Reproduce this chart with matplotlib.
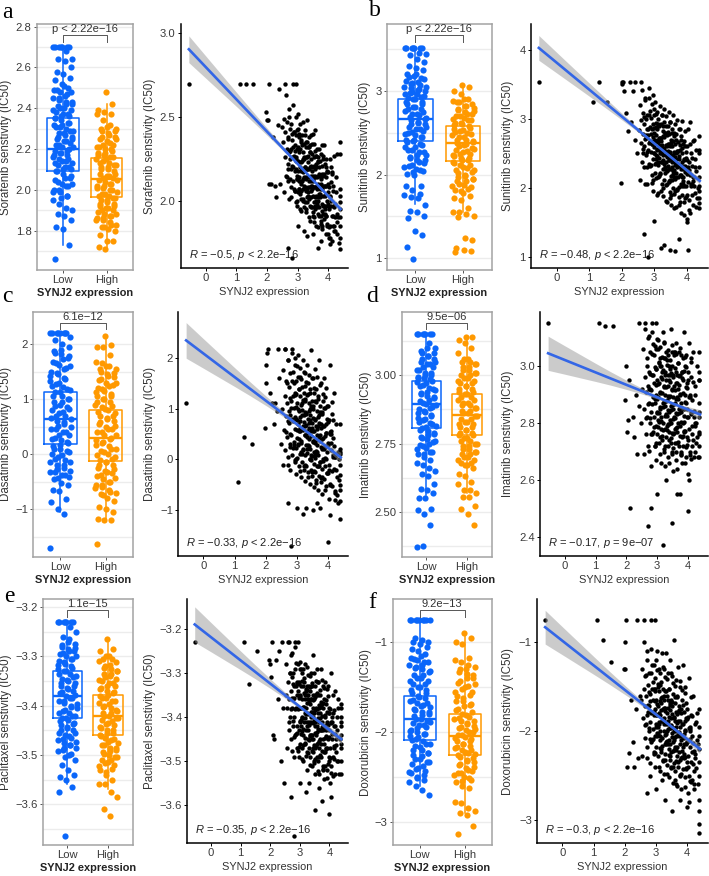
import matplotlib
matplotlib.use("Agg")
import numpy as np
import matplotlib.pyplot as plt

W, H = 709, 876
plt.rcParams['font.family'] = ['Liberation Sans', 'DejaVu Sans']
plt.rcParams['mathtext.fontset'] = 'custom'
plt.rcParams['mathtext.rm'] = 'Liberation Sans'
plt.rcParams['mathtext.it'] = 'Liberation Sans:italic'

BLUE = '#0A66FA'
ORANGE = '#FF9900'
LINE = '#3366E6'

# SYNJ2 expression, shared by every drug (one row = ten samples)
synj2 = [
    -0.55, 1.12, 1.30, 1.55, 2.05, 2.4, 2.6, 2.85, 2.95, 1.97,
    2.0, 2.02, 2.08, 2.12, 2.2, 2.25, 2.3, 2.35, 2.42, 2.48,
    4.38, 4.38, 4.38, 4.38, 4.38, 4.38, 4.38, 4.38, 4.38, 4.38,
    4.3, 4.3, 4.25, 4.22, 4.2, 4.35, 4.33, 4.28, 4.15, 4.1,
    2.7, 2.8, 3.0, 3.2, 3.3, 3.5, 3.65, 3.75, 4.0, 4.05,
    2.62, 2.85, 3.02, 3.18, 3.31, 3.44, 3.57, 3.71, 3.86, 4.05,
    2.71, 2.93, 3.08, 3.24, 3.37, 3.5, 3.63, 3.78, 3.94, 4.18,
    2.55, 2.78, 2.98, 3.13, 3.27, 3.41, 3.54, 3.67, 3.82, 4.0,
    2.66, 2.89, 3.05, 3.21, 3.34, 3.47, 3.6, 3.74, 3.9, 4.12,
    2.75, 2.95, 3.1, 3.26, 3.39, 3.52, 3.65, 3.8, 3.97, 4.25,
    2.6, 2.82, 3.0, 3.16, 3.29, 3.43, 3.56, 3.69, 3.84, 4.08,
    2.69, 2.91, 3.06, 3.22, 3.35, 3.48, 3.61, 3.76, 3.92, 4.15,
    2.52, 2.76, 2.96, 3.11, 3.25, 3.38, 3.51, 3.64, 3.79, 3.98,
    2.64, 2.87, 3.03, 3.19, 3.32, 3.45, 3.58, 3.72, 3.88, 4.1,
    2.73, 2.94, 3.09, 3.25, 3.38, 3.51, 3.64, 3.79, 3.96, 4.22,
    2.58, 2.8, 2.99, 3.14, 3.28, 3.42, 3.55, 3.68, 3.83, 4.03,
    2.67, 2.9, 3.04, 3.2, 3.33, 3.46, 3.59, 3.73, 3.89, 4.13,
    2.77, 2.97, 3.12, 3.27, 3.4, 3.53, 3.66, 3.81, 3.99, 4.27,
    2.63, 2.84, 3.01, 3.17, 3.3, 3.44, 3.57, 3.7, 3.85, 4.06,
    2.7, 2.92, 3.07, 3.23, 3.36, 3.49, 3.62, 3.77, 3.93, 4.2,
    2.56, 2.79, 2.97, 3.12, 3.26, 3.4, 3.53, 3.66, 3.81, 4.02,
    2.72, 2.88, 3.0, 3.11, 3.23, 3.36, 3.48, 3.61, 3.75, 3.91,
    2.83, 3.04, 3.15, 3.29, 3.41, 3.55, 3.68, 3.83, 3.95, 4.11,
    2.68, 2.92, 3.07, 3.2, 3.33, 3.46, 3.59, 3.72, 3.87, 4.02,
    2.78, 2.98, 3.13, 3.26, 3.39, 3.52, 3.66, 3.8, 3.93, 4.16,
    2.86, 3.02, 3.17, 3.3, 3.43, 3.57, 3.7, 3.85, 3.98, 4.07,
    2.74, 2.96, 3.1, 3.24, 3.37, 3.5, 3.63, 3.76, 3.9, 4.04,
    2.81, 3.0, 3.15, 3.28, 3.42, 3.54, 3.67, 3.82, 3.94, 4.19,
    2.7, 2.93, 3.08, 3.22, 3.35, 3.47, 3.6, 3.74, 3.88, 4.09,
    2.84, 3.05, 3.18, 3.31, 3.45, 3.58, 3.71, 3.86, 4.0, 4.23,
    2.76, 2.99, 3.12, 3.25, 3.38, 3.51, 3.64, 3.78, 3.92, 4.14,
    2.65, 2.9, 3.06, 3.19, 3.34, 3.48, 3.62, 3.75, 3.89, 4.01,
    2.88, 3.03, 3.16, 3.32, 3.44, 3.56, 3.69, 3.84, 3.97, 4.17,
    2.79, 2.97, 3.11, 3.27, 3.4, 3.53, 3.65, 3.79, 3.95, 4.07,
    2.72, 2.94, 3.09, 3.21, 3.36, 3.49, 3.61, 3.77, 3.91, 4.11,
]

sorafenib = [
    2.70, 2.70, 2.70, 2.70, 2.70, 2.67, 2.70, 2.70, 2.70, 2.53,
    2.48, 2.48, 2.10, 2.10, 2.38, 2.09, 2.02, 2.45, 2.10, 2.44,
    2.35, 2.28, 2.07, 2.03, 1.99, 1.95, 1.90, 1.85, 1.78, 1.71,
    2.28, 1.92, 2.05, 1.82, 1.97, 1.75, 1.90, 1.80, 1.85, 2.20,
    1.72, 1.66, 1.85, 1.82, 1.79, 1.80, 1.72, 1.76, 1.80, 1.74,
    2.63, 2.57, 2.52, 2.47, 2.48, 2.39, 2.42, 2.31, 2.33, 2.25,
    2.55, 2.50, 2.46, 2.42, 2.38, 2.40, 2.31, 2.33, 2.25, 2.27,
    2.49, 2.46, 2.42, 2.39, 2.35, 2.33, 2.34, 2.26, 2.27, 2.17,
    2.47, 2.41, 2.38, 2.34, 2.32, 2.28, 2.27, 2.24, 2.22, 2.16,
    2.43, 2.39, 2.35, 2.32, 2.29, 2.26, 2.23, 2.21, 2.17, 2.14,
    2.41, 2.36, 2.32, 2.29, 2.26, 2.25, 2.19, 2.20, 2.15, 2.11,
    2.37, 2.33, 2.29, 2.26, 2.23, 2.18, 2.20, 2.13, 2.14, 2.06,
    2.35, 2.30, 2.26, 2.23, 2.20, 2.19, 2.12, 2.14, 2.07, 2.05,
    2.31, 2.27, 2.23, 2.17, 2.19, 2.12, 2.15, 2.07, 2.09, 2.00,
    2.29, 2.24, 2.20, 2.19, 2.12, 2.13, 2.07, 2.09, 2.00, 1.98,
    2.26, 2.21, 2.15, 2.12, 2.14, 2.06, 2.08, 2.00, 1.97, 1.95,
    2.22, 2.18, 2.14, 2.09, 2.05, 2.07, 2.00, 2.02, 1.95, 1.91,
    2.19, 2.13, 2.10, 2.06, 2.08, 1.99, 2.02, 1.94, 1.97, 1.87,
    2.15, 2.12, 2.05, 2.07, 1.99, 2.02, 1.95, 1.96, 1.89, 1.85,
    2.12, 2.06, 2.04, 1.99, 2.01, 1.93, 1.96, 1.88, 1.91, 1.82,
    2.05, 2.02, 1.97, 1.94, 1.93, 1.88, 1.87, 1.84, 1.83, 1.78,
    2.50, 2.41, 2.43, 2.36, 2.39, 2.32, 2.34, 2.27, 2.28, 2.20,
    2.40, 2.40, 2.33, 2.35, 2.29, 2.30, 2.24, 2.25, 2.18, 2.17,
    2.38, 2.30, 2.31, 2.25, 2.27, 2.20, 2.22, 2.15, 2.16, 2.08,
    2.31, 2.31, 2.24, 2.26, 2.20, 2.21, 2.15, 2.16, 2.09, 2.09,
    2.32, 2.24, 2.25, 2.19, 2.21, 2.14, 2.16, 2.09, 2.10, 2.02,
    2.25, 2.25, 2.18, 2.20, 2.14, 2.15, 2.09, 2.10, 2.03, 2.03,
    2.26, 2.18, 2.19, 2.13, 2.15, 2.08, 2.10, 2.03, 2.04, 1.96,
    2.19, 2.19, 2.12, 2.14, 2.08, 2.09, 2.03, 2.04, 1.97, 1.97,
    2.20, 2.12, 2.13, 2.07, 2.09, 2.02, 2.04, 1.97, 1.98, 1.90,
    2.13, 2.13, 2.06, 2.08, 2.02, 2.03, 1.97, 1.98, 1.91, 1.91,
    2.14, 2.06, 2.07, 2.01, 2.03, 1.96, 1.98, 1.91, 1.92, 1.84,
    2.07, 2.07, 2.00, 2.02, 1.96, 1.97, 1.91, 1.92, 1.85, 1.85,
    2.08, 2.00, 2.01, 1.95, 1.97, 1.90, 1.92, 1.85, 1.86, 1.78,
    2.01, 1.99, 1.95, 1.96, 1.90, 1.91, 1.85, 1.86, 1.80, 1.76,
]
sunitinib = [
    3.53, 3.25, 3.53, 3.25, 3.53, 3.53, 3.53, 3.45, 3.35, 2.07,
    3.50, 3.53, 3.40, 3.08, 2.82, 3.53, 2.95, 3.40, 2.70, 2.50,
    2.75, 2.55, 2.30, 2.15, 2.02, 1.85, 1.78, 1.70, 2.50, 1.95,
    2.55, 1.72, 2.30, 2.70, 2.10, 2.00, 1.85, 2.25, 2.05, 2.95,
    1.33, 1.00, 1.52, 1.13, 1.17, 1.10, 1.08, 1.25, 1.50, 1.10,
    3.42, 3.30, 3.25, 3.18, 3.15, 3.10, 3.05, 2.98, 2.97, 2.85,
    3.28, 3.22, 3.10, 3.05, 3.04, 2.95, 2.92, 2.85, 2.82, 2.68,
    3.20, 3.05, 3.05, 2.93, 2.90, 2.89, 2.80, 2.78, 2.70, 2.60,
    3.08, 3.02, 2.94, 2.92, 2.80, 2.78, 2.75, 2.66, 2.63, 2.50,
    3.00, 2.92, 2.85, 2.83, 2.76, 2.70, 2.64, 2.62, 2.52, 2.42,
    2.98, 2.85, 2.80, 2.72, 2.74, 2.62, 2.61, 2.52, 2.50, 2.38,
    2.92, 2.78, 2.77, 2.68, 2.62, 2.60, 2.52, 2.46, 2.42, 2.32,
    2.84, 2.76, 2.68, 2.66, 2.58, 2.51, 2.47, 2.44, 2.33, 2.28,
    2.78, 2.68, 2.65, 2.55, 2.54, 2.46, 2.42, 2.34, 2.32, 2.20,
    2.71, 2.64, 2.55, 2.52, 2.45, 2.42, 2.33, 2.32, 2.23, 2.16,
    2.65, 2.55, 2.51, 2.43, 2.40, 2.32, 2.30, 2.22, 2.19, 2.08,
    2.56, 2.52, 2.42, 2.38, 2.30, 2.28, 2.20, 2.16, 2.10, 2.02,
    2.52, 2.42, 2.37, 2.28, 2.26, 2.17, 2.15, 2.06, 2.02, 1.92,
    2.38, 2.34, 2.22, 2.20, 2.12, 2.10, 2.00, 1.98, 1.90, 1.82,
    2.30, 2.18, 2.14, 2.05, 2.04, 1.94, 1.91, 1.86, 1.79, 1.75,
    2.12, 2.06, 1.95, 1.92, 1.88, 1.80, 1.75, 1.72, 1.64, 1.55,
    3.30, 3.12, 3.15, 3.00, 3.06, 2.90, 2.95, 2.80, 2.85, 2.68,
    3.05, 3.07, 2.90, 2.95, 2.81, 2.85, 2.70, 2.75, 2.60, 2.63,
    3.03, 2.85, 2.88, 2.73, 2.79, 2.63, 2.68, 2.53, 2.58, 2.41,
    2.85, 2.87, 2.70, 2.75, 2.61, 2.65, 2.50, 2.55, 2.40, 2.43,
    2.88, 2.70, 2.73, 2.58, 2.64, 2.48, 2.53, 2.38, 2.43, 2.26,
    2.72, 2.74, 2.57, 2.62, 2.48, 2.52, 2.37, 2.42, 2.27, 2.30,
    2.77, 2.59, 2.62, 2.47, 2.53, 2.37, 2.42, 2.27, 2.32, 2.15,
    2.61, 2.63, 2.46, 2.51, 2.37, 2.41, 2.26, 2.31, 2.16, 2.19,
    2.65, 2.47, 2.50, 2.35, 2.41, 2.25, 2.30, 2.15, 2.20, 2.03,
    2.48, 2.50, 2.33, 2.38, 2.24, 2.28, 2.13, 2.18, 2.03, 2.06,
    2.51, 2.33, 2.36, 2.21, 2.27, 2.11, 2.16, 2.01, 2.06, 1.89,
    2.32, 2.34, 2.17, 2.22, 2.08, 2.12, 1.97, 2.02, 1.87, 1.90,
    2.30, 2.12, 2.15, 2.00, 2.06, 1.90, 1.95, 1.80, 1.85, 1.68,
    2.05, 2.07, 1.90, 1.95, 1.81, 1.85, 1.70, 1.75, 1.60, 1.63,
]
dasatinib = [
    1.10, -0.45, 0.44, 0.30, 2.10, 2.18, 2.18, 2.18, 2.00, 0.62,
    1.50, 1.85, 2.18, 1.30, 1.10, 0.70, 1.10, 0.95, 1.60, 0.30,
    0.70, 0.20, 0.10, -0.10, -0.30, -0.50, -0.82, -1.18, 0.15, -0.60,
    0.15, -0.85, -0.20, -0.65, -0.80, 0.00, -0.40, -0.70, 0.05, 0.50,
    -0.85, -1.70, -0.95, -1.08, -0.95, -1.00, -0.85, -0.95, -1.62, -1.10,
    2.18, 2.10, 2.05, 1.95, 1.85, 2.15, 1.78, 1.95, 1.60, 1.85,
    1.95, 1.85, 1.80, 1.70, 1.65, 1.60, 1.62, 1.50, 1.40, 1.30,
    1.75, 1.70, 1.55, 1.58, 1.45, 1.38, 1.30, 1.25, 1.15, 1.05,
    1.55, 1.50, 1.38, 1.30, 1.28, 1.15, 1.12, 1.05, 1.02, 0.90,
    1.42, 1.30, 1.25, 1.15, 1.10, 1.00, 0.95, 0.90, 0.80, 0.70,
    1.25, 1.15, 1.10, 0.98, 0.92, 0.88, 0.80, 0.72, 0.65, 0.55,
    1.10, 1.02, 0.95, 0.88, 0.80, 0.72, 0.66, 0.62, 0.52, 0.42,
    1.00, 0.88, 0.80, 0.75, 0.65, 0.62, 0.55, 0.48, 0.40, 0.32,
    0.85, 0.75, 0.70, 0.58, 0.55, 0.46, 0.40, 0.36, 0.26, 0.18,
    0.72, 0.60, 0.55, 0.48, 0.40, 0.35, 0.28, 0.20, 0.14, 0.04,
    0.58, 0.48, 0.42, 0.32, 0.28, 0.20, 0.14, 0.08, 0.00, -0.10,
    0.45, 0.35, 0.28, 0.20, 0.12, 0.08, 0.02, -0.05, -0.12, -0.22,
    0.30, 0.22, 0.15, 0.08, 0.00, -0.08, -0.12, -0.18, -0.26, -0.35,
    0.18, 0.08, 0.02, -0.05, -0.12, -0.20, -0.25, -0.32, -0.38, -0.48,
    0.05, -0.05, -0.12, -0.20, -0.25, -0.32, -0.40, -0.45, -0.53, -0.62,
    -0.10, -0.20, -0.28, -0.35, -0.42, -0.48, -0.55, -0.60, -0.68, -0.78,
    1.96, 1.72, 1.83, 1.62, 1.72, 1.50, 1.60, 1.38, 1.46, 1.22,
    1.55, 1.63, 1.42, 1.53, 1.31, 1.41, 1.19, 1.29, 1.05, 1.13,
    1.51, 1.27, 1.38, 1.17, 1.27, 1.05, 1.15, 0.93, 1.01, 0.77,
    1.20, 1.28, 1.07, 1.18, 0.96, 1.06, 0.84, 0.94, 0.70, 0.78,
    1.24, 1.00, 1.11, 0.90, 1.00, 0.78, 0.88, 0.66, 0.74, 0.50,
    0.96, 1.04, 0.83, 0.94, 0.72, 0.82, 0.60, 0.70, 0.46, 0.54,
    1.01, 0.77, 0.88, 0.67, 0.77, 0.55, 0.65, 0.43, 0.51, 0.27,
    0.75, 0.83, 0.62, 0.73, 0.51, 0.61, 0.39, 0.49, 0.25, 0.33,
    0.79, 0.55, 0.66, 0.45, 0.55, 0.33, 0.43, 0.21, 0.29, 0.05,
    0.50, 0.58, 0.37, 0.48, 0.26, 0.36, 0.14, 0.24, 0.00, 0.08,
    0.53, 0.29, 0.40, 0.19, 0.29, 0.07, 0.17, -0.05, 0.03, -0.21,
    0.23, 0.31, 0.10, 0.21, -0.01, 0.09, -0.13, -0.03, -0.27, -0.19,
    0.24, 0.00, 0.11, -0.10, 0.00, -0.22, -0.12, -0.34, -0.26, -0.50,
    -0.10, -0.02, -0.23, -0.12, -0.34, -0.24, -0.46, -0.36, -0.60, -0.52,
]
imatinib = [
    3.15, 3.15, 3.14, 3.14, 2.81, 3.15, 3.15, 3.15, 3.15, 2.88,
    3.00, 2.77, 2.95, 2.50, 2.82, 2.75, 2.90, 2.69, 2.86, 2.80,
    3.05, 2.98, 2.87, 2.82, 2.77, 2.72, 2.68, 2.95, 2.76, 2.84,
    3.00, 2.75, 2.90, 2.70, 2.82, 2.95, 2.68, 2.80, 2.72, 3.03,
    2.44, 2.50, 2.55, 2.37, 2.60, 2.45, 2.55, 2.55, 2.49, 2.60,
    3.13, 3.12, 3.09, 3.12, 3.02, 3.13, 3.05, 3.05, 3.12, 3.08,
    3.10, 3.07, 3.03, 3.08, 3.04, 3.05, 3.08, 3.04, 3.04, 3.05,
    3.06, 3.05, 3.06, 3.00, 3.03, 2.99, 3.05, 3.01, 2.98, 2.98,
    3.00, 3.04, 3.01, 3.03, 2.97, 3.00, 2.98, 2.97, 3.00, 2.96,
    2.98, 2.99, 3.00, 2.97, 3.00, 2.96, 2.97, 2.98, 2.94, 2.93,
    2.96, 2.97, 2.95, 2.98, 2.95, 2.97, 2.93, 2.92, 2.95, 2.90,
    2.93, 2.94, 2.94, 2.93, 2.93, 2.92, 2.94, 2.90, 2.90, 2.88,
    2.92, 2.92, 2.90, 2.91, 2.90, 2.89, 2.89, 2.89, 2.87, 2.85,
    2.91, 2.89, 2.89, 2.87, 2.88, 2.86, 2.87, 2.85, 2.85, 2.83,
    2.87, 2.87, 2.85, 2.86, 2.84, 2.85, 2.83, 2.84, 2.82, 2.80,
    2.85, 2.84, 2.84, 2.82, 2.83, 2.81, 2.82, 2.80, 2.80, 2.78,
    2.82, 2.82, 2.81, 2.80, 2.79, 2.80, 2.78, 2.79, 2.77, 2.76,
    2.80, 2.79, 2.78, 2.78, 2.77, 2.76, 2.77, 2.75, 2.75, 2.73,
    2.76, 2.76, 2.76, 2.74, 2.75, 2.73, 2.73, 2.72, 2.72, 2.70,
    2.72, 2.72, 2.73, 2.70, 2.72, 2.69, 2.70, 2.69, 2.68, 2.68,
    2.69, 2.65, 2.67, 2.66, 2.65, 2.66, 2.63, 2.64, 2.66, 2.62,
    3.107, 3.076, 3.095, 3.066, 3.085, 3.056, 3.074, 3.044, 3.062, 3.031,
    3.043, 3.060, 3.031, 3.050, 3.021, 3.040, 3.010, 3.028, 2.998, 3.015,
    3.027, 2.996, 3.015, 2.986, 3.005, 2.976, 2.994, 2.964, 2.982, 2.951,
    2.973, 2.990, 2.961, 2.980, 2.951, 2.970, 2.940, 2.958, 2.928, 2.945,
    2.967, 2.936, 2.955, 2.926, 2.945, 2.916, 2.934, 2.904, 2.922, 2.891,
    2.918, 2.935, 2.906, 2.925, 2.896, 2.915, 2.885, 2.903, 2.873, 2.890,
    2.917, 2.886, 2.905, 2.876, 2.895, 2.866, 2.884, 2.854, 2.872, 2.841,
    2.868, 2.885, 2.856, 2.875, 2.846, 2.865, 2.835, 2.853, 2.823, 2.840,
    2.867, 2.836, 2.855, 2.826, 2.845, 2.816, 2.834, 2.804, 2.822, 2.791,
    2.818, 2.835, 2.806, 2.825, 2.796, 2.815, 2.785, 2.803, 2.773, 2.790,
    2.817, 2.786, 2.805, 2.776, 2.795, 2.766, 2.784, 2.754, 2.772, 2.741,
    2.768, 2.785, 2.756, 2.775, 2.746, 2.765, 2.735, 2.753, 2.723, 2.740,
    2.762, 2.731, 2.750, 2.721, 2.740, 2.711, 2.729, 2.699, 2.717, 2.686,
    2.703, 2.720, 2.691, 2.710, 2.681, 2.700, 2.670, 2.688, 2.658, 2.675,
]
paclitaxel = [
    -3.23, -3.23, -3.325, -3.25, -3.23, -3.23, -3.23, -3.23, -3.23, -3.27,
    -3.28, -3.31, -3.44, -3.45, -3.27, -3.36, -3.25, -3.50, -3.38, -3.55,
    -3.37, -3.40, -3.42, -3.44, -3.46, -3.47, -3.53, -3.38, -3.41, -3.50,
    -3.38, -3.50, -3.43, -3.48, -3.42, -3.45, -3.53, -3.36, -3.47, -3.40,
    -3.58, -3.67, -3.55, -3.57, -3.55, -3.61, -3.56, -3.59, -3.62, -3.58,
    -3.23, -3.24, -3.29, -3.28, -3.33, -3.26, -3.29, -3.29, -3.32, -3.30,
    -3.26, -3.28, -3.30, -3.33, -3.30, -3.33, -3.32, -3.33, -3.33, -3.34,
    -3.28, -3.30, -3.32, -3.32, -3.35, -3.33, -3.35, -3.35, -3.36, -3.38,
    -3.30, -3.32, -3.33, -3.34, -3.34, -3.36, -3.35, -3.37, -3.37, -3.39,
    -3.31, -3.34, -3.33, -3.35, -3.36, -3.35, -3.38, -3.38, -3.39, -3.40,
    -3.32, -3.33, -3.35, -3.36, -3.36, -3.38, -3.38, -3.39, -3.40, -3.41,
    -3.34, -3.35, -3.36, -3.38, -3.37, -3.39, -3.39, -3.41, -3.41, -3.42,
    -3.35, -3.36, -3.38, -3.38, -3.39, -3.40, -3.41, -3.41, -3.42, -3.43,
    -3.36, -3.38, -3.38, -3.39, -3.41, -3.40, -3.42, -3.43, -3.43, -3.45,
    -3.38, -3.38, -3.40, -3.41, -3.41, -3.42, -3.43, -3.43, -3.45, -3.45,
    -3.38, -3.40, -3.41, -3.41, -3.43, -3.44, -3.44, -3.45, -3.46, -3.47,
    -3.40, -3.42, -3.42, -3.43, -3.44, -3.45, -3.46, -3.46, -3.47, -3.49,
    -3.42, -3.43, -3.44, -3.45, -3.45, -3.47, -3.47, -3.48, -3.49, -3.50,
    -3.43, -3.44, -3.46, -3.46, -3.47, -3.48, -3.49, -3.49, -3.51, -3.51,
    -3.45, -3.47, -3.47, -3.48, -3.49, -3.50, -3.50, -3.52, -3.52, -3.53,
    -3.47, -3.49, -3.49, -3.50, -3.52, -3.51, -3.53, -3.53, -3.54, -3.55,
    -3.254, -3.278, -3.274, -3.291, -3.286, -3.306, -3.301, -3.320, -3.316, -3.336,
    -3.291, -3.291, -3.311, -3.304, -3.323, -3.319, -3.338, -3.333, -3.353, -3.349,
    -3.299, -3.323, -3.319, -3.336, -3.331, -3.351, -3.346, -3.365, -3.361, -3.381,
    -3.326, -3.326, -3.346, -3.339, -3.358, -3.354, -3.373, -3.368, -3.388, -3.384,
    -3.329, -3.353, -3.349, -3.366, -3.361, -3.381, -3.376, -3.395, -3.391, -3.411,
    -3.356, -3.356, -3.376, -3.369, -3.388, -3.384, -3.403, -3.398, -3.418, -3.414,
    -3.356, -3.380, -3.376, -3.393, -3.388, -3.408, -3.403, -3.422, -3.418, -3.438,
    -3.381, -3.381, -3.401, -3.394, -3.413, -3.409, -3.428, -3.423, -3.443, -3.439,
    -3.382, -3.406, -3.402, -3.419, -3.414, -3.434, -3.429, -3.448, -3.444, -3.464,
    -3.408, -3.408, -3.428, -3.421, -3.440, -3.436, -3.455, -3.450, -3.470, -3.466,
    -3.411, -3.435, -3.431, -3.448, -3.443, -3.463, -3.458, -3.477, -3.473, -3.493,
    -3.438, -3.438, -3.458, -3.451, -3.470, -3.466, -3.485, -3.480, -3.500, -3.496,
    -3.444, -3.468, -3.464, -3.481, -3.476, -3.496, -3.491, -3.510, -3.506, -3.526,
    -3.476, -3.476, -3.496, -3.489, -3.508, -3.504, -3.523, -3.518, -3.538, -3.534,
]
doxorubicin = [
    -0.75, -0.75, -0.97, -1.22, -0.75, -0.75, -0.75, -0.75, -0.75, -1.30,
    -1.00, -1.30, -2.40, -2.25, -1.65, -2.12, -2.40, -1.75, -2.30, -1.60,
    -1.75, -1.95, -2.05, -2.20, -2.35, -2.50, -2.90, -3.05, -3.15, -2.78,
    -1.80, -2.10, -2.30, -2.45, -2.65, -2.15, -2.60, -1.90, -2.55, -1.95,
    -2.70, -2.50, -2.65, -2.55, -2.78, -2.90, -2.60, -2.78, -2.85, -2.80,
    -1.00, -1.08, -1.10, -1.12, -1.12, -1.20, -0.97, -1.28, -1.25, -1.40,
    -1.20, -1.25, -1.30, -1.30, -1.35, -1.38, -1.42, -1.50, -1.50, -1.60,
    -1.30, -1.35, -1.40, -1.48, -1.55, -1.52, -1.58, -1.62, -1.65, -1.75,
    -1.38, -1.45, -1.50, -1.52, -1.60, -1.65, -1.68, -1.72, -1.78, -1.82,
    -1.48, -1.55, -1.55, -1.65, -1.65, -1.72, -1.78, -1.80, -1.85, -1.92,
    -1.52, -1.58, -1.65, -1.68, -1.74, -1.76, -1.85, -1.88, -1.92, -1.98,
    -1.60, -1.65, -1.72, -1.75, -1.80, -1.85, -1.88, -1.95, -2.00, -2.05,
    -1.65, -1.72, -1.75, -1.82, -1.85, -1.92, -1.95, -2.00, -2.05, -2.12,
    -1.72, -1.78, -1.82, -1.88, -1.92, -1.96, -2.00, -2.05, -2.08, -2.18,
    -1.78, -1.82, -1.90, -1.92, -1.98, -2.02, -2.05, -2.10, -2.15, -2.22,
    -1.85, -1.90, -1.95, -2.00, -2.04, -2.10, -2.12, -2.18, -2.22, -2.28,
    -1.92, -1.98, -2.02, -2.08, -2.12, -2.15, -2.20, -2.24, -2.30, -2.35,
    -2.00, -2.05, -2.10, -2.14, -2.20, -2.22, -2.28, -2.30, -2.35, -2.42,
    -2.08, -2.12, -2.18, -2.24, -2.26, -2.32, -2.36, -2.40, -2.43, -2.50,
    -2.18, -2.24, -2.28, -2.32, -2.38, -2.40, -2.45, -2.50, -2.52, -2.60,
    -2.28, -2.36, -2.40, -2.45, -2.48, -2.52, -2.58, -2.62, -2.65, -2.70,
    -1.10, -1.26, -1.20, -1.34, -1.28, -1.41, -1.35, -1.49, -1.43, -1.57,
    -1.35, -1.31, -1.45, -1.39, -1.53, -1.46, -1.60, -1.54, -1.68, -1.62,
    -1.37, -1.53, -1.47, -1.61, -1.55, -1.68, -1.62, -1.76, -1.70, -1.84,
    -1.56, -1.52, -1.66, -1.60, -1.74, -1.67, -1.81, -1.75, -1.89, -1.83,
    -1.53, -1.69, -1.63, -1.77, -1.71, -1.84, -1.78, -1.92, -1.86, -2.00,
    -1.70, -1.66, -1.80, -1.74, -1.88, -1.81, -1.95, -1.89, -2.03, -1.97,
    -1.66, -1.82, -1.76, -1.90, -1.84, -1.97, -1.91, -2.05, -1.99, -2.13,
    -1.82, -1.78, -1.92, -1.86, -2.00, -1.93, -2.07, -2.01, -2.15, -2.09,
    -1.79, -1.95, -1.89, -2.03, -1.97, -2.10, -2.04, -2.18, -2.12, -2.26,
    -1.96, -1.92, -2.06, -2.00, -2.14, -2.07, -2.21, -2.15, -2.29, -2.23,
    -1.93, -2.09, -2.03, -2.17, -2.11, -2.24, -2.18, -2.32, -2.26, -2.40,
    -2.10, -2.06, -2.20, -2.14, -2.28, -2.21, -2.35, -2.29, -2.43, -2.37,
    -2.09, -2.25, -2.19, -2.33, -2.27, -2.40, -2.34, -2.48, -2.42, -2.56,
    -2.30, -2.26, -2.40, -2.34, -2.48, -2.41, -2.55, -2.49, -2.63, -2.57,
]

# sideways offsets of the dots inside each box column
jitter = [
    -0.02, 0.13, -0.19, -0.05, 0.10, -0.22, -0.08, 0.07, 0.22, -0.11, 0.04, 0.19,
    -0.14, 0.01, 0.16, -0.17, -0.03, 0.12, -0.20, -0.06, 0.09, -0.23, -0.09, 0.06,
    0.21, -0.12, 0.03, 0.18, -0.15, 0.00, 0.15, -0.18, -0.04, 0.11, -0.21, -0.07,
    0.08, 0.23, -0.10, 0.05, 0.20, -0.13, 0.02, 0.17, -0.16, -0.01, 0.14, -0.19,
    -0.05, 0.10, -0.22, -0.08, 0.07, 0.22, -0.11, 0.04, 0.19, -0.14, 0.01, 0.16,
    -0.17, -0.03, 0.12, -0.20, -0.06, 0.09, -0.23, -0.09, 0.06, 0.21, -0.12, 0.03,
    0.18, -0.15, 0.00, 0.15, -0.18, -0.04, 0.11, -0.21, -0.07, 0.08, 0.23, -0.10,
    0.05, 0.20, -0.13, 0.02, 0.17, -0.16, -0.01, 0.14, -0.19, -0.02, 0.13, -0.05,
]

sor_low = [2.70, 2.70, 2.70, 2.70, 2.70, 2.70, 2.70, 2.68, 2.64, 2.64, 2.63, 2.60, 2.58, 2.57, 2.55, 2.54,
           2.52, 2.50, 2.49, 2.48, 2.47, 2.45, 2.44, 2.43, 2.42, 2.41, 2.40, 2.39, 2.38, 2.37, 2.36, 2.35,
           2.34, 2.33, 2.32, 2.31, 2.30, 2.29, 2.28, 2.27, 2.26, 2.25, 2.24, 2.23, 2.22, 2.21, 2.20, 2.19,
           2.18, 2.17, 2.16, 2.15, 2.14, 2.13, 2.12, 2.11, 2.10, 2.09, 2.08, 2.06, 2.05, 2.03, 2.02, 2.00,
           1.99, 1.97, 1.95, 1.93, 1.91, 1.90, 1.88, 1.87, 1.85, 1.82, 1.81, 1.73, 1.66]
sor_high = [2.48, 2.42, 2.39, 2.38, 2.37, 2.37, 2.34, 2.32, 2.30, 2.29, 2.28, 2.26, 2.25, 2.24, 2.22, 2.21,
            2.20, 2.19, 2.18, 2.17, 2.16, 2.15, 2.14, 2.13, 2.12, 2.11, 2.10, 2.09, 2.08, 2.07, 2.06, 2.05,
            2.04, 2.03, 2.02, 2.01, 2.00, 1.99, 1.98, 1.97, 1.96, 1.95, 1.94, 1.93, 1.92, 1.91, 1.90, 1.89,
            1.88, 1.87, 1.86, 1.85, 1.84, 1.83, 1.82, 1.81, 1.80, 1.78, 1.75, 1.75, 1.72, 1.71]
sun_low = [3.52, 3.52, 3.52, 3.52, 3.52, 3.52, 3.52, 3.45, 3.44, 3.43, 3.38, 3.35, 3.30, 3.27, 3.25, 3.20,
           3.18, 3.15, 3.12, 3.10, 3.07, 3.05, 3.03, 3.01, 3.00, 2.98, 2.96, 2.94, 2.92, 2.90, 2.87, 2.84,
           2.81, 2.79, 2.76, 2.73, 2.71, 2.68, 2.65, 2.62, 2.60, 2.57, 2.55, 2.52, 2.50, 2.47, 2.45, 2.42,
           2.40, 2.37, 2.33, 2.30, 2.27, 2.23, 2.20, 2.17, 2.14, 2.10, 2.07, 2.04, 2.01, 2.00, 1.87, 1.86,
           1.82, 1.77, 1.76, 1.73, 1.72, 1.64, 1.57, 1.55, 1.51, 1.48, 1.33, 1.28, 1.13, 0.99]
sun_high = [3.07, 3.05, 3.00, 2.97, 2.90, 2.88, 2.87, 2.82, 2.80, 2.77, 2.75, 2.72, 2.70, 2.68, 2.65, 2.62,
            2.60, 2.58, 2.55, 2.52, 2.50, 2.47, 2.45, 2.42, 2.40, 2.38, 2.35, 2.32, 2.30, 2.27, 2.25, 2.22,
            2.20, 2.17, 2.15, 2.12, 2.08, 2.05, 2.02, 1.98, 1.95, 1.92, 1.88, 1.85, 1.82, 1.78, 1.75, 1.72,
            1.70, 1.60, 1.55, 1.55, 1.53, 1.50, 1.49, 1.24, 1.22, 1.12, 1.10, 1.09, 1.07]
das_low = [2.20, 2.20, 2.20, 2.20, 2.20, 2.20, 2.20, 2.20, 2.12, 2.08, 2.00, 1.95, 1.88, 1.82, 1.75, 1.68,
           1.62, 1.57, 1.50, 1.45, 1.38, 1.32, 1.28, 1.22, 1.16, 1.12, 1.06, 1.00, 0.95, 0.90, 0.85, 0.80,
           0.75, 0.70, 0.65, 0.60, 0.55, 0.50, 0.45, 0.40, 0.35, 0.30, 0.25, 0.20, 0.15, 0.10, 0.05, 0.00,
           -0.05, -0.10, -0.15, -0.20, -0.25, -0.30, -0.33, -0.38, -0.42, -0.45, -0.53, -0.55, -0.65, -0.66,
           -0.82, -0.87, -0.99, -1.08, -1.71]
das_high = [2.15, 1.98, 1.95, 1.95, 1.80, 1.67, 1.65, 1.60, 1.55, 1.50, 1.45, 1.40, 1.35, 1.30, 1.25, 1.20,
            1.15, 1.10, 1.05, 1.00, 0.95, 0.90, 0.85, 0.80, 0.75, 0.70, 0.65, 0.60, 0.55, 0.50, 0.45, 0.40,
            0.35, 0.30, 0.25, 0.20, 0.15, 0.10, 0.05, 0.00, -0.05, -0.10, -0.15, -0.20, -0.25, -0.30, -0.35,
            -0.40, -0.45, -0.50, -0.55, -0.60, -0.65, -0.70, -0.72, -0.80, -0.85, -0.95, -1.00, -1.05, -1.18,
            -1.19, -1.20, -1.63]
ima_low = [3.15, 3.15, 3.15, 3.15, 3.15, 3.15, 3.15, 3.12, 3.10, 3.08, 3.07, 3.06, 3.05, 3.04, 3.03, 3.02,
           3.01, 3.00, 2.995, 2.99, 2.985, 2.975, 2.965, 2.955, 2.945, 2.935, 2.925, 2.915, 2.905, 2.895,
           2.885, 2.875, 2.865, 2.855, 2.845, 2.835, 2.825, 2.815, 2.805, 2.795, 2.785, 2.775, 2.765, 2.755,
           2.745, 2.735, 2.72, 2.71, 2.70, 2.69, 2.68, 2.67, 2.66, 2.65, 2.64, 2.63, 2.60, 2.585, 2.58, 2.57,
           2.55, 2.55, 2.51, 2.505, 2.49, 2.45, 2.37, 2.375]
ima_high = [3.14, 3.14, 3.13, 3.12, 3.10, 3.08, 3.06, 3.05, 3.04, 3.03, 3.02, 3.01, 3.00, 2.99, 2.98, 2.97,
            2.96, 2.95, 2.94, 2.93, 2.92, 2.91, 2.90, 2.89, 2.88, 2.87, 2.86, 2.85, 2.84, 2.83, 2.82, 2.81,
            2.80, 2.79, 2.78, 2.77, 2.76, 2.75, 2.74, 2.73, 2.72, 2.71, 2.70, 2.69, 2.68, 2.67, 2.66, 2.64,
            2.63, 2.61, 2.60, 2.58, 2.58, 2.57, 2.555, 2.555, 2.52, 2.51, 2.49, 2.45]
pac_low = [-3.23, -3.23, -3.23, -3.23, -3.23, -3.23, -3.23, -3.24, -3.25, -3.26, -3.265, -3.275, -3.28,
           -3.285, -3.29, -3.295, -3.30, -3.305, -3.31, -3.315, -3.32, -3.325, -3.33, -3.335, -3.34, -3.345,
           -3.35, -3.355, -3.36, -3.365, -3.37, -3.375, -3.38, -3.385, -3.39, -3.395, -3.40, -3.405, -3.41,
           -3.415, -3.42, -3.425, -3.43, -3.435, -3.44, -3.445, -3.45, -3.455, -3.46, -3.465, -3.47, -3.475,
           -3.48, -3.485, -3.49, -3.50, -3.51, -3.52, -3.53, -3.54, -3.545, -3.55, -3.565, -3.575, -3.665]
pac_high = [-3.265, -3.285, -3.29, -3.30, -3.305, -3.31, -3.32, -3.325, -3.33, -3.335, -3.34, -3.345, -3.35,
            -3.355, -3.36, -3.365, -3.37, -3.375, -3.38, -3.385, -3.39, -3.395, -3.40, -3.405, -3.41, -3.415,
            -3.42, -3.425, -3.43, -3.435, -3.44, -3.445, -3.45, -3.455, -3.46, -3.465, -3.47, -3.475, -3.48,
            -3.485, -3.49, -3.495, -3.50, -3.505, -3.51, -3.515, -3.52, -3.53, -3.54, -3.55, -3.56, -3.56,
            -3.575, -3.585, -3.61, -3.625]
dox_low = [-0.75, -0.75, -0.75, -0.75, -0.75, -0.75, -0.75, -0.75, -0.75, -0.95, -0.97, -1.00, -1.00, -1.02,
           -1.05, -1.08, -1.10, -1.13, -1.17, -1.20, -1.22, -1.25, -1.28, -1.30, -1.33, -1.36, -1.40, -1.43,
           -1.46, -1.50, -1.53, -1.56, -1.60, -1.625, -1.65, -1.675, -1.70, -1.725, -1.75, -1.775, -1.80,
           -1.825, -1.85, -1.875, -1.90, -1.925, -1.95, -1.975, -2.00, -2.025, -2.05, -2.08, -2.10, -2.13,
           -2.16, -2.20, -2.23, -2.26, -2.30, -2.33, -2.36, -2.40, -2.43, -2.46, -2.50, -2.53, -2.56, -2.60,
           -2.65, -2.70]
dox_high = [-0.90, -0.95, -1.00, -1.02, -1.18, -1.20, -1.22, -1.25, -1.28, -1.30, -1.35, -1.40, -1.45, -1.50,
            -1.55, -1.60, -1.65, -1.70, -1.75, -1.80, -1.83, -1.855, -1.88, -1.905, -1.93, -1.955, -1.98,
            -2.005, -2.03, -2.055, -2.08, -2.105, -2.13, -2.155, -2.18, -2.205, -2.23, -2.25, -2.28, -2.31,
            -2.34, -2.37, -2.40, -2.43, -2.46, -2.50, -2.53, -2.56, -2.60, -2.62, -2.78, -2.79, -2.85, -2.88,
            -2.90, -2.92, -3.05, -3.14]

# the thick middle of each column, read as a second pass
sor_low_c = [2.51, 2.49, 2.48, 2.46, 2.45, 2.43, 2.42, 2.40, 2.39, 2.37, 2.36, 2.35, 2.33, 2.32, 2.31, 2.29,
             2.28, 2.26, 2.25, 2.24, 2.22, 2.21, 2.19, 2.18, 2.17, 2.15, 2.14, 2.13, 2.11, 2.10, 2.09, 2.07,
             2.06, 2.04, 2.03, 2.02, 2.00, 1.99, 1.97, 1.96]
sor_high_c = [2.31, 2.30, 2.29, 2.27, 2.26, 2.25, 2.23, 2.22, 2.21, 2.20, 2.18, 2.17, 2.16, 2.15, 2.13, 2.12,
              2.11, 2.10, 2.08, 2.07, 2.06, 2.05, 2.03, 2.02, 2.01, 2.00, 1.98, 1.97, 1.96, 1.95, 1.93, 1.92,
              1.91, 1.90, 1.88, 1.87, 1.86, 1.85, 1.83, 1.82]
sun_low_c = [3.20, 3.17, 3.14, 3.11, 3.08, 3.05, 3.02, 2.99, 2.96, 2.93, 2.90, 2.87, 2.84, 2.81, 2.78, 2.75,
             2.72, 2.69, 2.66, 2.63, 2.60, 2.57, 2.54, 2.51, 2.48, 2.45, 2.42, 2.39, 2.36, 2.33, 2.30, 2.27,
             2.24, 2.21, 2.18, 2.15, 2.12, 2.09, 2.06, 2.03]
sun_high_c = [2.90, 2.87, 2.84, 2.82, 2.79, 2.76, 2.73, 2.70, 2.67, 2.65, 2.62, 2.59, 2.56, 2.53, 2.51, 2.48,
              2.45, 2.42, 2.39, 2.37, 2.34, 2.31, 2.28, 2.25, 2.23, 2.20, 2.17, 2.14, 2.11, 2.09, 2.06, 2.03,
              2.00, 1.97, 1.95, 1.92, 1.89, 1.86, 1.83, 1.81]
das_low_c = [1.90, 1.84, 1.78, 1.72, 1.66, 1.60, 1.54, 1.48, 1.42, 1.36, 1.30, 1.24, 1.18, 1.12, 1.06, 1.00,
             0.94, 0.88, 0.82, 0.76, 0.70, 0.64, 0.58, 0.52, 0.46, 0.40, 0.34, 0.28, 0.22, 0.16, 0.10, 0.04,
             -0.02, -0.08, -0.14, -0.20, -0.26, -0.32, -0.38, -0.44]
das_high_c = [1.60, 1.54, 1.48, 1.42, 1.36, 1.30, 1.24, 1.18, 1.12, 1.06, 1.00, 0.94, 0.88, 0.82, 0.76, 0.70,
              0.64, 0.58, 0.52, 0.46, 0.40, 0.34, 0.28, 0.22, 0.16, 0.10, 0.04, -0.02, -0.08, -0.14, -0.20,
              -0.26, -0.32, -0.38, -0.44, -0.50, -0.56, -0.62, -0.68, -0.74]
ima_low_c = [3.10, 3.09, 3.08, 3.07, 3.06, 3.05, 3.04, 3.03, 3.02, 3.01, 3.00, 2.99, 2.98, 2.97, 2.96, 2.95,
             2.94, 2.93, 2.92, 2.91, 2.90, 2.89, 2.88, 2.87, 2.86, 2.85, 2.84, 2.83, 2.82, 2.81, 2.80, 2.79,
             2.78, 2.77, 2.76, 2.75, 2.74, 2.73, 2.72, 2.71]
ima_high_c = [3.06, 3.05, 3.04, 3.03, 3.02, 3.01, 3.00, 2.99, 2.98, 2.97, 2.96, 2.95, 2.94, 2.93, 2.92, 2.91,
              2.90, 2.89, 2.88, 2.87, 2.86, 2.85, 2.84, 2.83, 2.82, 2.81, 2.80, 2.79, 2.78, 2.77, 2.76, 2.75,
              2.74, 2.73, 2.72, 2.71, 2.70, 2.69, 2.68, 2.67]
pac_low_c = [-3.27, -3.276, -3.282, -3.288, -3.294, -3.30, -3.306, -3.312, -3.318, -3.324, -3.33, -3.336, -3.342,
             -3.348, -3.354, -3.36, -3.366, -3.372, -3.378, -3.384, -3.39, -3.396, -3.402, -3.408, -3.414, -3.42,
             -3.426, -3.432, -3.438, -3.444, -3.45, -3.456, -3.462, -3.468, -3.474, -3.48, -3.486, -3.492, -3.498, -3.504]
pac_high_c = [-3.30, -3.306, -3.312, -3.318, -3.324, -3.33, -3.336, -3.342, -3.348, -3.354, -3.36, -3.366, -3.372,
              -3.378, -3.384, -3.39, -3.396, -3.402, -3.408, -3.414, -3.42, -3.426, -3.432, -3.438, -3.444, -3.45,
              -3.456, -3.462, -3.468, -3.474, -3.48, -3.486, -3.492, -3.498, -3.504, -3.51, -3.516, -3.522, -3.528, -3.534]
dox_low_c = [-1.15, -1.185, -1.22, -1.255, -1.29, -1.325, -1.36, -1.395, -1.43, -1.465, -1.50, -1.535, -1.57,
             -1.605, -1.64, -1.675, -1.71, -1.745, -1.78, -1.815, -1.85, -1.885, -1.92, -1.955, -1.99, -2.025,
             -2.06, -2.095, -2.13, -2.165, -2.20, -2.235, -2.27, -2.305, -2.34, -2.375, -2.41, -2.445, -2.48, -2.515]
dox_high_c = [-1.30, -1.332, -1.364, -1.396, -1.428, -1.46, -1.492, -1.524, -1.556, -1.588, -1.62, -1.652, -1.684,
              -1.716, -1.748, -1.78, -1.812, -1.844, -1.876, -1.908, -1.94, -1.972, -2.004, -2.036, -2.068, -2.10,
              -2.132, -2.164, -2.196, -2.228, -2.26, -2.292, -2.324, -2.356, -2.388, -2.42, -2.452, -2.484, -2.516, -2.548]

drugs = ['Sorafenib', 'Sunitinib', 'Dasatinib', 'Imatinib', 'Paclitaxel', 'Doxorubicin']
letters = ['a', 'b', 'c', 'd', 'e', 'f']
scatter_y = [sorafenib, sunitinib, dasatinib, imatinib, paclitaxel, doxorubicin]
low_y = [sor_low, sun_low, das_low, ima_low, pac_low, dox_low]
high_y = [sor_high, sun_high, das_high, ima_high, pac_high, dox_high]
low_c = [sor_low_c, sun_low_c, das_low_c, ima_low_c, pac_low_c, dox_low_c]
high_c = [sor_high_c, sun_high_c, das_high_c, ima_high_c, pac_high_c, dox_high_c]
# q1, median, q3, lower whisker, upper whisker
low_box = [(2.09, 2.20, 2.35, 1.73, 2.70), (2.40, 2.66, 2.91, 1.65, 3.52), (0.18, 0.63, 1.12, -1.05, 2.20),
           (2.805, 2.895, 2.98, 2.56, 3.15), (-3.425, -3.38, -3.33, -3.56, -3.23), (-2.09, -1.85, -1.60, -2.60, -0.75)]
high_box = [(1.965, 2.055, 2.155, 1.72, 2.42), (2.16, 2.38, 2.58, 1.55, 3.05), (-0.12, 0.30, 0.80, -1.20, 2.15),
            (2.78, 2.855, 2.93, 2.57, 3.14), (-3.46, -3.42, -3.378, -3.57, -3.265), (-2.26, -2.05, -1.80, -2.90, -0.90)]
p_labels = ['p < 2.22e\u221216', 'p < 2.22e\u221216', '6.1e\u221212', '9.5e\u221206', '1.1e\u221215', '9.2e\u221213']
stat_labels = ['$\\mathit{R}$ = \u22120.5, $\\mathit{p}$ < 2.2e\u221216',
               '$\\mathit{R}$ = \u22120.48, $\\mathit{p}$ < 2.2e\u221216',
               '$\\mathit{R}$ = \u22120.33, $\\mathit{p}$ < 2.2e\u221216',
               '$\\mathit{R}$ = \u22120.17, $\\mathit{p}$ = 9e\u221207',
               '$\\mathit{R}$ = \u22120.35, $\\mathit{p}$ < 2.2e\u221216',
               '$\\mathit{R}$ = \u22120.3, $\\mathit{p}$ < 2.2e\u221216']

# fit line at x = -0.55 and x = 4.4, and the half width of the band at the left end
fit_ends = [(2.905, 1.95), (4.03, 2.10), (2.34, 0.04), (3.045, 2.83), (-3.19, -3.45), (-0.83, -2.20)]
band_left = [0.08, 0.18, 0.35, 0.06, 0.04, 0.19]
band_x = [-0.55, 0.0, 0.5, 1.0, 1.5, 2.0, 2.5, 3.0, 3.3, 3.6, 4.0, 4.4]
band_rel = [1.0, 0.83, 0.68, 0.53, 0.39, 0.27, 0.17, 0.10, 0.09, 0.10, 0.17, 0.28]

# axes limits
box_ylims = [(1.607, 2.813), (0.860, 3.801), (-1.871, 2.586), (2.333, 3.233), (-3.683, -3.184), (-3.26, -0.521)]
box_major = [[1.8, 2.0, 2.2, 2.4, 2.6, 2.8], [1, 2, 3], [-1, 0, 1, 2], [2.5, 2.75, 3.0], [-3.6, -3.5, -3.4, -3.3, -3.2], [-3, -2, -1]]
box_ticklabels = [['1.8', '2.0', '2.2', '2.4', '2.6', '2.8'], ['1', '2', '3'], ['\u22121', '0', '1', '2'],
                  ['2.50', '2.75', '3.00'], ['\u22123.6', '\u22123.5', '\u22123.4', '\u22123.3', '\u22123.2'],
                  ['\u22123', '\u22122', '\u22121']]
box_minor = [[1.7, 1.9, 2.1, 2.3, 2.5, 2.7], [1.5, 2.5, 3.5], [-1.5, -0.5, 0.5, 1.5], [2.375, 2.625, 2.875, 3.125],
             [-3.65, -3.55, -3.45, -3.35, -3.25], [-2.5, -1.5]]
sc_xlims = [(-0.816, 4.643), (-0.8, 4.655), (-0.8, 4.63), (-0.814, 4.658), (-0.8, 4.628), (-0.81, 4.662)]
sc_ylims = [(1.596, 3.056), (0.832, 4.377), (-1.898, 2.904), (2.333, 3.191), (-3.686, -3.133), (-3.262, -0.516)]
sc_major = [[2.0, 2.5, 3.0], [1, 2, 3, 4], [-1, 0, 1, 2], [2.4, 2.6, 2.8, 3.0], [-3.6, -3.5, -3.4, -3.3, -3.2], [-3, -2, -1]]
sc_ticklabels = [['2.0', '2.5', '3.0'], ['1', '2', '3', '4'], ['\u22121', '0', '1', '2'], ['2.4', '2.6', '2.8', '3.0'],
                 ['\u22123.6', '\u22123.5', '\u22123.4', '\u22123.3', '\u22123.2'], ['\u22123', '\u22122', '\u22121']]

# left, right, top, bottom in pixels
box_pos = [(36.7, 132.7, 24, 270), (386.7, 491.7, 24, 270), (33.3, 132.7, 311.7, 557.3),
           (401.7, 491.7, 311.7, 557.3), (42.7, 132.7, 599.3, 845), (392.7, 491.7, 599.3, 845)]
sc_pos = [(180.7, 348, 24, 268.3), (530.7, 708, 24, 268.3), (178.3, 348, 311.7, 556),
          (540, 708, 311.7, 556), (187.3, 348, 599.3, 843.3), (537, 708, 599.3, 843.3)]
letter_pos = [(2, 12), (369, 10), (2, 296), (366, 296), (4, 596), (368, 603)]
# right edge of the rotated y labels, in pixels from the left
box_label_x = [12, 371, 12, 371.7, 12, 371.7]
sc_label_x = [156, 513.7, 156, 514.3, 156, 513.7]

fig = plt.figure(figsize=(W / 100, H / 100), dpi=100)


def make_axes(pos):
    l, r, t, b = pos
    return fig.add_axes([l / W, 1 - b / H, (r - l) / W, (b - t) / H])


def place_ylabel(ax, pos, x_px):
    l, r = pos[0], pos[1]
    ax.yaxis.set_label_coords((x_px - l) / (r - l), 0.5)


def draw_box(i):
    ax = make_axes(box_pos[i])
    ax.set_xlim(0.4, 2.6)
    ax.set_ylim(*box_ylims[i])
    ax.set_axisbelow(True)
    ax.set_yticks(box_major[i])
    ax.set_yticklabels(box_ticklabels[i])
    ax.set_yticks(box_minor[i], minor=True)
    ax.grid(axis='y', which='both', color='#ececec', lw=1)
    ax.tick_params(axis='y', which='minor', length=0)
    ax.tick_params(axis='both', which='major', length=2.2, width=0.7, color='#555555',
                   labelsize=8.1, labelcolor='#3a3a3a', pad=1.5)
    for s in ax.spines.values():
        s.set_color('#a3a3a3')
        s.set_linewidth(1.1)
    for pos_x, col, ys, core, st in [(1, BLUE, low_y[i], low_c[i], low_box[i]),
                                     (2, ORANGE, high_y[i], high_c[i], high_box[i])]:
        stats = [dict(q1=st[0], med=st[1], q3=st[2], whislo=st[3], whishi=st[4], fliers=[])]
        props = dict(color=col, lw=1.1)
        ax.bxp(stats, positions=[pos_x], widths=0.72, showcaps=False, showfliers=False,
               boxprops=props, whiskerprops=props,
               medianprops=dict(color=col, lw=1.7), manage_ticks=False, zorder=2)
        ax.scatter(pos_x + np.array(jitter[:len(ys)]), ys, s=20, color=col, linewidths=0, zorder=3)
        ax.scatter(pos_x - np.array(jitter[:len(core)]), core, s=20, color=col, linewidths=0, zorder=3)
    ax.set_xticks([1, 2])
    ax.set_xticklabels(['Low', 'High'])
    ax.set_xlabel('SYNJ2 expression', fontweight='bold', fontsize=7.9, color='#222222', labelpad=2)
    ax.set_ylabel(drugs[i] + ' senstivity (IC50)', fontsize=8.3, color='#333333')
    place_ylabel(ax, box_pos[i], box_label_x[i])
    # bracket with the p value
    tr = ax.get_xaxis_transform()
    ax.plot([1, 1, 2, 2], [0.928, 0.955, 0.955, 0.928], transform=tr, color='#555555', lw=0.7,
            clip_on=False, zorder=4)
    ax.text(1.5, 0.98, p_labels[i], transform=tr, ha='center', va='center', fontsize=8,
            color='#333333', zorder=5)


def draw_scatter(i):
    ax = make_axes(sc_pos[i])
    ax.set_xlim(*sc_xlims[i])
    ax.set_ylim(*sc_ylims[i])
    x = np.array(synj2)
    y = np.array(scatter_y[i])
    ax.scatter(x[:len(y)], y, s=10, color='black', linewidths=0, zorder=2)
    y0, y1 = fit_ends[i]
    bx = np.array(band_x)
    by = np.interp(bx, [-0.55, 4.4], [y0, y1])
    half = np.array(band_rel) * band_left[i]
    ax.fill_between(bx, by - half, by + half, color='#999999', alpha=0.5, linewidth=0, zorder=3)
    ax.plot([-0.55, 4.4], [y0, y1], color=LINE, lw=1.9, zorder=4)
    for s in ['top', 'right']:
        ax.spines[s].set_visible(False)
    for s in ['left', 'bottom']:
        ax.spines[s].set_linewidth(1.1)
    ax.set_xticks([0, 1, 2, 3, 4])
    ax.set_yticks(sc_major[i])
    ax.set_yticklabels(sc_ticklabels[i])
    ax.tick_params(axis='both', length=2.2, width=0.7, labelsize=8.1, labelcolor='#3a3a3a', pad=1.5)
    ax.set_xlabel('SYNJ2 expression', fontsize=7.9, color='#333333', labelpad=2.5)
    ax.set_ylabel(drugs[i] + ' senstivity (IC50)', fontsize=8.3, color='#333333')
    place_ylabel(ax, sc_pos[i], sc_label_x[i])
    ax.annotate(stat_labels[i], xy=(0, 0), xycoords='axes fraction', xytext=(8, 13),
                textcoords='offset pixels', va='center', fontsize=8, color='#222222', zorder=6)


for i in range(6):
    draw_box(i)
    draw_scatter(i)
    lx, ly = letter_pos[i]
    fig.text(lx / W, 1 - ly / H, letters[i], family='Liberation Serif', fontsize=17,
             ha='left', va='center', color='black')

fig.savefig('out.png', dpi=100)
